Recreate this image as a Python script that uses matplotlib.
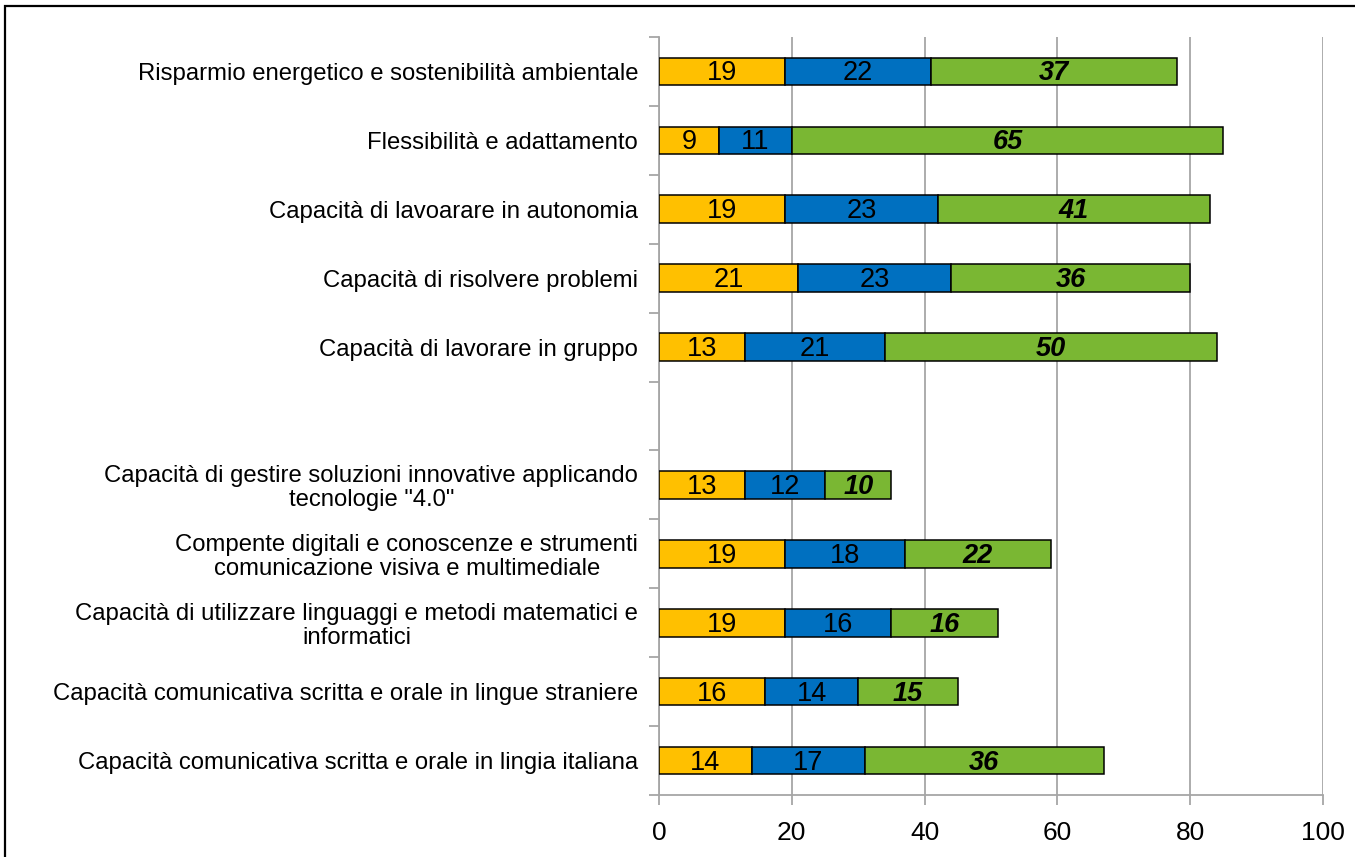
import matplotlib
matplotlib.use("Agg")
import matplotlib.pyplot as plt
import numpy as np
from matplotlib.patches import Rectangle
from matplotlib.transforms import ScaledTranslation

plt.rcParams['font.family'] = ['Liberation Sans', 'DejaVu Sans']

categories = [
    "Capacità comunicativa scritta e orale in lingia italiana",
    "Capacità comunicativa scritta e orale in lingue straniere",
    "Capacità di utilizzare linguaggi e metodi matematici e\ninformatici",
    "Compente digitali e conoscenze e strumenti\ncomunicazione visiva e multimediale",
    "Capacità di gestire soluzioni innovative applicando\ntecnologie \"4.0\"",
    "",
    "Capacità di lavorare in gruppo",
    "Capacità di risolvere problemi",
    "Capacità di lavoarare in autonomia",
    "Flessibilità e adattamento",
    "Risparmio energetico e sostenibilità ambientale",
]
series_orange = [14, 16, 19, 19, 13, np.nan, 13, 21, 19, 9, 19]
series_blue = [17, 14, 16, 18, 12, np.nan, 21, 23, 23, 11, 22]
series_green = [36, 15, 16, 22, 10, np.nan, 50, 36, 41, 65, 37]
x_ticks = [0, 20, 40, 60, 80, 100]

colors = ["#FFC000", "#0070C0", "#7AB733"]

fig = plt.figure(figsize=(13.55, 8.57), dpi=100)
ax = fig.add_axes([659/1355, 1-795/857, (1323-659)/1355, (795-37)/857])

y = np.arange(len(categories))
o = np.array(series_orange, dtype=float)
b = np.array(series_blue, dtype=float)
g = np.array(series_green, dtype=float)
valid = ~np.isnan(o)

h = 0.4
ax.barh(y[valid], o[valid], height=h, color=colors[0], edgecolor="black", linewidth=1.1, zorder=3)
ax.barh(y[valid], b[valid], left=o[valid], height=h, color=colors[1], edgecolor="black", linewidth=1.1, zorder=3)
ax.barh(y[valid], g[valid], left=(o+b)[valid], height=h, color=colors[2], edgecolor="black", linewidth=1.1, zorder=3)

fs_bar = 19.5
shift = ax.transData + ScaledTranslation(0, -2/100, fig.dpi_scale_trans)
for yi, oi, bi, gi in zip(y[valid], o[valid], b[valid], g[valid]):
    ax.text(oi/2, yi, f"{int(oi)}", ha="center", va="center", fontsize=fs_bar, zorder=4, transform=shift)
    ax.text(oi + bi/2, yi, f"{int(bi)}", ha="center", va="center", fontsize=fs_bar, zorder=4, transform=shift)
    ax.text(oi + bi + gi/2, yi, f"{int(gi)}", ha="center", va="center", fontsize=fs_bar,
            fontweight="bold", fontstyle="italic", zorder=4, transform=shift)

ax.set_xlim(0, 100)
ax.set_ylim(-0.5, len(categories) - 0.5)
ax.set_xticks(x_ticks)
ax.set_xticklabels([str(t) for t in x_ticks], fontsize=19)
ax.xaxis.grid(True, color="#A6A6A6", linewidth=1.3, zorder=0)
ax.set_axisbelow(True)

# y ticks at slot boundaries (minor), labels at centers (major)
ax.set_yticks(y)
ax.set_yticklabels(categories, fontsize=17.2, multialignment="center", linespacing=1.1)
ax.tick_params(axis="y", which="major", length=0, pad=15)
ax.set_yticks(np.arange(-0.5, len(categories), 1.0), minor=True)
ax.tick_params(axis="y", which="minor", length=7, color="#A6A6A6", width=1.3)
ax.tick_params(axis="x", length=7, color="#A6A6A6", width=1.3, pad=12)

for s in ["top", "right"]:
    ax.spines[s].set_visible(False)
for s in ["left", "bottom"]:
    ax.spines[s].set_color("#A6A6A6")
    ax.spines[s].set_linewidth(1.3)

# figure border
fig.patches.append(Rectangle((5/1355, -0.02), 1.1, 0.993 + 0.02, transform=fig.transFigure,
                             fill=False, edgecolor="black", linewidth=1.6, zorder=10))

fig.savefig("out.png", dpi=100)
